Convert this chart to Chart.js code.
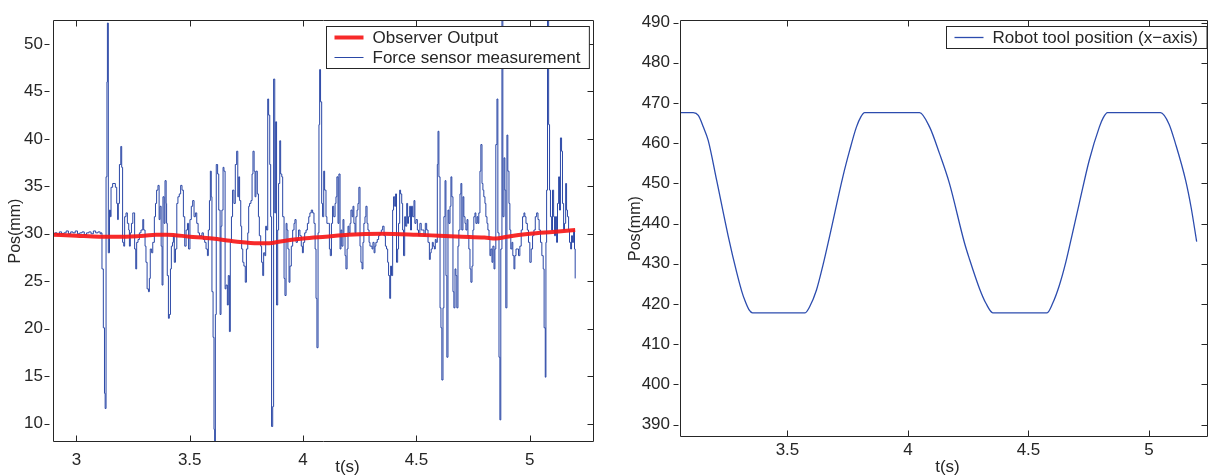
<!DOCTYPE html>
<html>
<head>
<meta charset="utf-8">
<title>Observer output and robot tool position</title>
<script src="https://cdn.jsdelivr.net/npm/chart.js@4.4.1/dist/chart.umd.min.js"></script>
<style>
  html, body { margin: 0; padding: 0; background: #fff; }
  body { position: relative; width: 1209px; height: 476px; overflow: hidden; }
  .panel { position: absolute; top: 0; }
  #leftPanel { left: 0; }
  #rightPanel { left: 610px; }
</style>
</head>
<body>
<div class="panel" id="leftPanel"><canvas id="forceChart" width="600" height="476"></canvas></div>
<div class="panel" id="rightPanel"><canvas id="robotChart" width="599" height="476"></canvas></div>
<script>
// ---- data: left panel (position estimate vs. raw force sensor), t in s, pos in mm
const observerOutput = [
  [2.897, 29.9], [3.0, 29.8], [3.1, 29.7], [3.2, 29.7], [3.3, 29.8], [3.35, 29.9], [3.4, 29.9],
  [3.5, 29.7], [3.6, 29.5], [3.7, 29.2], [3.8, 29.0], [3.85, 29.0], [3.9, 29.2], [4.0, 29.5],
  [4.1, 29.7], [4.2, 29.9], [4.35, 30.0], [4.5, 29.9], [4.6, 29.8], [4.7, 29.7], [4.8, 29.6],
  [4.85, 29.5], [4.9, 29.7], [5.0, 30.0], [5.1, 30.2], [5.2, 30.4]
];

const forceSensor = [
  [2.897, 30.0], [2.905, 30.1], [2.915, 29.9], [2.925, 30.2], [2.935, 30.0], [2.945, 30.1],
  [2.955, 30.3], [2.965, 30.0], [2.975, 30.2], [2.985, 30.1], [2.995, 30.3], [3.005, 30.0],
  [3.015, 30.1], [3.025, 30.2], [3.035, 29.9], [3.045, 30.1], [3.055, 30.2], [3.065, 30.0],
  [3.075, 30.3], [3.085, 30.1], [3.095, 30.2], [3.105, 30.0], [3.109, 30.1],
  [3.113, 26.3], [3.119, 20.1], [3.124, 13.2], [3.127, 11.6], [3.131, 36.0], [3.135, 46.0],
  [3.137, 52.2], [3.141, 28.0], [3.146, 32.5], [3.150, 31.8], [3.153, 34.9], [3.160, 35.3],
  [3.172, 34.9], [3.178, 33.2], [3.182, 31.5], [3.185, 33.2], [3.190, 37.3], [3.196, 39.2],
  [3.200, 37.0], [3.204, 29.1], [3.209, 28.7], [3.213, 31.8], [3.219, 32.2], [3.225, 31.1],
  [3.231, 30.4], [3.234, 28.7], [3.238, 30.1], [3.243, 31.1], [3.249, 32.2], [3.253, 32.2],
  [3.257, 28.4], [3.262, 26.3], [3.266, 29.1], [3.272, 29.4], [3.278, 30.1], [3.285, 30.4],
  [3.293, 31.5], [3.297, 30.4], [3.303, 28.7], [3.307, 27.0], [3.312, 24.2], [3.318, 23.9],
  [3.322, 25.3], [3.326, 28.4], [3.332, 28.0], [3.337, 29.1], [3.344, 31.8], [3.349, 33.2],
  [3.354, 34.6], [3.360, 35.1], [3.365, 31.5], [3.369, 32.9], [3.374, 28.7], [3.378, 24.6],
  [3.382, 33.9], [3.387, 31.1], [3.391, 35.6], [3.396, 33.2], [3.398, 31.1], [3.401, 25.6],
  [3.406, 21.1], [3.410, 21.5], [3.415, 26.3], [3.419, 28.7], [3.424, 29.1], [3.428, 29.8],
  [3.432, 27.0], [3.437, 28.4], [3.443, 33.2], [3.448, 33.9], [3.454, 34.2], [3.460, 35.1],
  [3.466, 34.6], [3.472, 31.8], [3.478, 28.7], [3.484, 30.4], [3.490, 31.1], [3.495, 28.4],
  [3.501, 31.5], [3.507, 32.9], [3.513, 33.5], [3.519, 31.8], [3.525, 32.2], [3.531, 31.1],
  [3.537, 30.1], [3.543, 29.8], [3.548, 29.8], [3.554, 30.1], [3.560, 29.4], [3.566, 29.1],
  [3.572, 28.4], [3.578, 27.7], [3.582, 30.4], [3.587, 33.5], [3.591, 36.6], [3.595, 33.9],
  [3.598, 23.9], [3.603, 19.1], [3.607, 9.4], [3.610, 7.5], [3.613, 21.5], [3.617, 37.3],
  [3.623, 36.3], [3.628, 32.5], [3.634, 21.5], [3.638, 30.8], [3.642, 32.5], [3.647, 37.0],
  [3.651, 36.6], [3.656, 24.2], [3.660, 24.6], [3.666, 22.5], [3.670, 25.6], [3.675, 19.7],
  [3.679, 29.1], [3.684, 31.8], [3.689, 34.6], [3.695, 33.2], [3.701, 37.3], [3.707, 38.7],
  [3.712, 33.9], [3.716, 36.0], [3.720, 33.5], [3.725, 30.8], [3.729, 28.4], [3.734, 27.0],
  [3.739, 26.6], [3.745, 24.9], [3.750, 28.4], [3.756, 30.1], [3.760, 32.9], [3.764, 33.2],
  [3.770, 33.5], [3.775, 36.3], [3.779, 38.7], [3.784, 36.6], [3.788, 33.9], [3.792, 36.6],
  [3.798, 34.2], [3.803, 31.8], [3.807, 29.8], [3.813, 28.7], [3.817, 27.0], [3.822, 25.6],
  [3.826, 28.0], [3.831, 27.7], [3.835, 30.8], [3.839, 30.4], [3.844, 44.2], [3.848, 42.5],
  [3.853, 37.3], [3.857, 31.8], [3.861, 9.7], [3.866, 11.8], [3.870, 46.3], [3.875, 32.2],
  [3.879, 41.8], [3.883, 22.5], [3.888, 30.4], [3.892, 35.3], [3.897, 39.8], [3.901, 36.3],
  [3.906, 36.0], [3.910, 31.8], [3.916, 25.3], [3.920, 23.5], [3.925, 31.1], [3.929, 30.4],
  [3.933, 28.4], [3.938, 24.9], [3.942, 26.6], [3.948, 28.7], [3.954, 30.4], [3.960, 31.1],
  [3.964, 31.5], [3.969, 29.1], [3.975, 29.4], [3.980, 30.4], [3.986, 29.8], [3.992, 28.7],
  [3.997, 28.0], [4.001, 29.1], [4.007, 30.1], [4.013, 30.4], [4.019, 31.1], [4.025, 31.8],
  [4.030, 32.2], [4.036, 32.5], [4.042, 32.2], [4.048, 31.1], [4.053, 28.4], [4.057, 23.2],
  [4.061, 18.0], [4.066, 30.1], [4.070, 41.5], [4.073, 47.3], [4.077, 43.9], [4.082, 33.2],
  [4.086, 31.8], [4.091, 36.6], [4.095, 34.6], [4.101, 31.8], [4.105, 31.1], [4.111, 31.1],
  [4.116, 28.4], [4.120, 27.7], [4.125, 31.1], [4.130, 32.9], [4.135, 31.8], [4.141, 33.2],
  [4.145, 33.9], [4.149, 36.0], [4.154, 31.1], [4.158, 36.3], [4.163, 28.4], [4.167, 30.4],
  [4.171, 28.7], [4.176, 31.5], [4.180, 29.8], [4.185, 27.7], [4.189, 26.3], [4.194, 28.4],
  [4.198, 30.8], [4.202, 30.1], [4.207, 31.1], [4.211, 32.5], [4.216, 31.8], [4.220, 32.9],
  [4.224, 31.1], [4.229, 30.1], [4.233, 31.8], [4.238, 32.5], [4.242, 33.2], [4.246, 34.9],
  [4.251, 28.7], [4.255, 27.0], [4.260, 26.3], [4.264, 29.1], [4.268, 31.1], [4.273, 31.8],
  [4.277, 32.9], [4.282, 31.1], [4.286, 30.4], [4.291, 29.1], [4.295, 28.7], [4.299, 28.7],
  [4.304, 28.4], [4.308, 29.1], [4.313, 28.0], [4.317, 28.7], [4.321, 29.1], [4.327, 29.4],
  [4.333, 29.8], [4.339, 30.1], [4.345, 30.4], [4.351, 30.8], [4.357, 29.8], [4.363, 28.7],
  [4.368, 28.4], [4.373, 27.0], [4.377, 25.6], [4.382, 23.2], [4.386, 26.6], [4.390, 25.6],
  [4.395, 32.5], [4.399, 33.9], [4.404, 32.9], [4.408, 34.2], [4.412, 27.0], [4.417, 28.4],
  [4.421, 31.1], [4.426, 34.6], [4.430, 34.2], [4.435, 33.2], [4.439, 30.4], [4.443, 27.7],
  [4.448, 31.8], [4.452, 30.8], [4.457, 33.2], [4.461, 31.1], [4.465, 31.8], [4.470, 32.9],
  [4.474, 30.4], [4.478, 32.9], [4.483, 31.8], [4.489, 33.5], [4.493, 31.1], [4.498, 31.5],
  [4.504, 30.4], [4.509, 29.8], [4.515, 31.1], [4.521, 30.4], [4.527, 30.4], [4.533, 29.8],
  [4.539, 31.1], [4.545, 30.4], [4.551, 29.1], [4.557, 27.3], [4.561, 28.0], [4.565, 28.4],
  [4.570, 29.1], [4.574, 28.7], [4.579, 28.4], [4.583, 29.4], [4.587, 29.1], [4.592, 37.3],
  [4.595, 40.8], [4.599, 36.0], [4.604, 22.2], [4.608, 20.1], [4.612, 14.6], [4.617, 22.2],
  [4.621, 31.8], [4.626, 35.6], [4.630, 25.6], [4.634, 17.0], [4.639, 32.5], [4.643, 31.1],
  [4.648, 32.9], [4.652, 36.0], [4.656, 33.9], [4.661, 23.9], [4.665, 22.2], [4.670, 26.3],
  [4.674, 25.6], [4.678, 22.2], [4.683, 28.7], [4.687, 30.4], [4.692, 34.2], [4.696, 35.3],
  [4.700, 30.4], [4.705, 33.9], [4.709, 31.8], [4.714, 31.1], [4.718, 30.4], [4.723, 31.5],
  [4.727, 29.8], [4.731, 28.4], [4.736, 26.3], [4.740, 24.9], [4.745, 26.6], [4.749, 30.4],
  [4.753, 31.8], [4.758, 32.2], [4.762, 31.1], [4.767, 31.8], [4.771, 31.1], [4.775, 32.2],
  [4.780, 36.6], [4.784, 39.4], [4.789, 35.3], [4.793, 34.6], [4.797, 33.9], [4.802, 33.2],
  [4.806, 31.8], [4.811, 31.1], [4.815, 30.4], [4.820, 29.4], [4.824, 27.7], [4.828, 28.4],
  [4.833, 27.0], [4.837, 28.7], [4.842, 26.3], [4.846, 28.4], [4.850, 39.4], [4.855, 44.2],
  [4.859, 30.1], [4.864, 17.0], [4.868, 10.4], [4.872, 28.4], [4.877, 60.0], [4.881, 31.8],
  [4.886, 38.0], [4.890, 34.6], [4.894, 22.2], [4.899, 40.4], [4.903, 36.6], [4.908, 33.2],
  [4.912, 30.4], [4.916, 28.4], [4.921, 29.1], [4.925, 27.7], [4.930, 26.3], [4.934, 27.7],
  [4.939, 28.4], [4.944, 28.4], [4.950, 27.7], [4.956, 28.7], [4.962, 30.4], [4.968, 31.8],
  [4.974, 32.2], [4.978, 31.8], [4.983, 31.1], [4.989, 30.4], [4.994, 29.1], [5.000, 27.0],
  [5.006, 28.4], [5.012, 29.8], [5.018, 30.4], [5.024, 31.8], [5.030, 32.2], [5.036, 31.5],
  [5.041, 30.4], [5.047, 29.1], [5.053, 27.7], [5.059, 26.3], [5.063, 20.1], [5.068, 14.9],
  [5.071, 29.1], [5.074, 34.6], [5.078, 60.0], [5.083, 41.5], [5.087, 34.6], [5.091, 31.8],
  [5.096, 30.4], [5.100, 34.6], [5.105, 31.8], [5.109, 29.8], [5.113, 31.8], [5.118, 29.1],
  [5.122, 33.2], [5.127, 36.0], [5.131, 32.5], [5.135, 40.1], [5.140, 38.7], [5.144, 33.2],
  [5.149, 30.4], [5.153, 31.1], [5.158, 35.3], [5.162, 32.5], [5.166, 31.8], [5.171, 30.4],
  [5.175, 29.1], [5.180, 28.4], [5.184, 29.8], [5.188, 29.1], [5.193, 30.4], [5.197, 28.4],
  [5.200, 25.3]
];

// ---- data: right panel (robot tool x position), t in s, pos in mm
const robotToolX = [
  [3.05, 467.6], [3.109, 467.6], [3.13, 466.9], [3.151, 464.0], [3.171, 460.7], [3.206, 450.8],
  [3.254, 436.9], [3.289, 427.9], [3.31, 423.2], [3.323, 420.9], [3.34, 418.6], [3.355, 417.8],
  [3.573, 417.8], [3.592, 419.3], [3.620, 423.4], [3.647, 429.6], [3.675, 436.9], [3.730, 451.7],
  [3.758, 458.2], [3.786, 464.0], [3.805, 466.6], [3.820, 467.6],
  [4.048, 467.6], [4.090, 464.0], [4.131, 457.4], [4.172, 450.0], [4.234, 435.3], [4.255, 431.2],
  [4.297, 423.8], [4.324, 420.1], [4.352, 417.8],
  [4.577, 417.8], [4.600, 420.1], [4.628, 424.6], [4.655, 430.4], [4.683, 437.7], [4.711, 445.1],
  [4.752, 455.7], [4.794, 464.0], [4.810, 466.3], [4.828, 467.6],
  [5.048, 467.6], [5.083, 464.8], [5.110, 459.9], [5.152, 450.8], [5.175, 444.0], [5.198, 435.5]
];

// ---- axis ranges and ticks
const leftTimeRange = [2.897, 5.283];
const leftPosRange = [8.07, 52.5];
const leftTimeTicks = [3, 3.5, 4, 4.5, 5];
const leftPosTicks = [10, 15, 20, 25, 30, 35, 40, 45, 50];

const rightTimeRange = [3.054, 5.245];
const rightPosRange = [386.9, 490.6];
const rightTimeTicks = [3.5, 4, 4.5, 5];
const rightPosTicks = [390, 400, 410, 420, 430, 440, 450, 460, 470, 480, 490];

const FONT = '"Liberation Sans", Arial, Helvetica, sans-serif';
const INK = '#262626';

const toXY = rows => rows.map(([x, y]) => ({ x, y }));

// box, inward ticks, axis titles and the boxed legend
const matlabAxes = {
  id: 'matlabAxes',
  afterDraw(chart, args, o) {
    const { ctx, chartArea: a } = chart;
    const sx = chart.scales.x, sy = chart.scales.y;
    const L = Math.round(a.left) + 0.5, R = Math.round(a.right) - 0.5;
    const T = Math.round(a.top) + 0.5, B = Math.round(a.bottom) - 0.5;

    ctx.save();
    ctx.strokeStyle = INK;
    ctx.lineWidth = 1;
    ctx.beginPath();
    ctx.rect(L, T, R - L, B - T);
    sx.ticks.forEach(t => {
      const x = Math.round(sx.getPixelForValue(t.value)) + 0.5;
      ctx.moveTo(x, B); ctx.lineTo(x, B - 6);
      ctx.moveTo(x, T); ctx.lineTo(x, T + 6);
    });
    sy.ticks.forEach(t => {
      const y = Math.round(sy.getPixelForValue(t.value)) + 0.5;
      ctx.moveTo(L - o.tickGap, y); ctx.lineTo(L - o.tickGap - 5, y);
      ctx.moveTo(R, y); ctx.lineTo(R - 6, y);
    });
    ctx.stroke();

    // axis titles
    ctx.fillStyle = INK;
    ctx.textAlign = 'center';
    ctx.textBaseline = 'middle';
    ctx.font = '17px ' + FONT;
    ctx.fillText(o.xTitle, (a.left + a.right) / 2 + o.xTitleShift, o.xTitleY);
    ctx.font = '16px ' + FONT;
    ctx.save();
    ctx.translate(o.yTitleX, (a.top + a.bottom) / 2);
    ctx.rotate(-Math.PI / 2);
    ctx.fillText(o.yTitle, 0, 0);
    ctx.restore();

    // legend box in the upper right corner
    const items = chart.data.datasets;
    ctx.font = '17px ' + FONT;
    const textW = Math.max(...items.map(d => ctx.measureText(d.label).width));
    const w = 8 + 29 + 9 + textW + 9;
    const h = items.length * 20 + 2;
    const bx = Math.round(a.right - o.legendRight - w) + 0.5;
    const by = Math.round(a.top + o.legendTop) + 0.5;
    ctx.fillStyle = '#fff';
    ctx.fillRect(bx, by, w, h);
    ctx.strokeRect(bx, by, w, h);
    ctx.textAlign = 'left';
    items.forEach((d, i) => {
      const cy = by + 11 + i * 20;
      ctx.strokeStyle = d.borderColor;
      ctx.lineWidth = d.borderWidth;
      ctx.beginPath();
      ctx.moveTo(bx + 8, cy); ctx.lineTo(bx + 37, cy);
      ctx.stroke();
      ctx.fillStyle = INK;
      ctx.fillText(d.label, bx + 46, cy + 1);
    });
    ctx.restore();
  }
};

function axes(timeRange, posRange, timeTicks, posTicks, yWidth, xHeight, xPad) {
  const tickFont = { family: FONT, size: 17 };
  return {
    x: {
      type: 'linear', min: timeRange[0], max: timeRange[1],
      afterBuildTicks: s => { s.ticks = timeTicks.map(v => ({ value: v })); },
      afterFit: s => { s.height = xHeight; },
      grid: { display: false, drawTicks: false },
      border: { display: false },
      ticks: { color: INK, font: tickFont, padding: xPad, maxRotation: 0, autoSkip: false, callback: v => String(v) }
    },
    y: {
      type: 'linear', min: posRange[0], max: posRange[1],
      afterBuildTicks: s => { s.ticks = posTicks.map(v => ({ value: v })); },
      afterFit: s => { s.width = yWidth; },
      grid: { display: false, drawTicks: false },
      border: { display: false },
      ticks: { color: INK, font: tickFont, padding: 10, autoSkip: false, callback: v => String(v) }
    }
  };
}

new Chart(document.getElementById('forceChart'), {
  type: 'line',
  data: {
    datasets: [{
      label: 'Observer Output',
      data: toXY(observerOutput),
      borderColor: 'rgba(246, 24, 24, 0.92)',
      borderWidth: 4,
      pointRadius: 0,
      cubicInterpolationMode: 'monotone'
    }, {
      label: 'Force sensor measurement',
      data: toXY(forceSensor),
      borderColor: '#2a47a6',
      borderWidth: 1,
      pointRadius: 0,
      stepped: true
    }]
  },
  options: {
    responsive: false,
    animation: false,
    devicePixelRatio: 1,
    layout: { padding: { top: 14, right: 6, left: 0, bottom: 0 } },
    scales: axes(leftTimeRange, leftPosRange, leftTimeTicks, leftPosTicks, 53, 34, 8),
    plugins: {
      legend: { display: false },
      tooltip: { enabled: false },
      matlabAxes: {
        tickGap: 4, xTitle: 't(s)', xTitleShift: 24, xTitleY: 467.5,
        yTitle: 'Pos(mm)', yTitleX: 16, legendRight: 5, legendTop: 6
      }
    }
  },
  plugins: [matlabAxes]
});

new Chart(document.getElementById('robotChart'), {
  type: 'line',
  data: {
    datasets: [{
      label: 'Robot tool position (x\u2212axis)',
      data: toXY(robotToolX),
      borderColor: '#2c4cae',
      borderWidth: 1.3,
      pointRadius: 0,
      cubicInterpolationMode: 'monotone'
    }]
  },
  options: {
    responsive: false,
    animation: false,
    devicePixelRatio: 1,
    layout: { padding: { top: 15, right: 1, left: 0, bottom: 0 } },
    scales: axes(rightTimeRange, rightPosRange, rightTimeTicks, rightPosTicks, 70, 39, 3),
    plugins: {
      legend: { display: false },
      tooltip: { enabled: false },
      matlabAxes: {
        tickGap: 2, xTitle: 't(s)', xTitleShift: 3.5, xTitleY: 467.5,
        yTitle: 'Pos(mm)', yTitleX: 25.5, legendRight: 1, legendTop: 6
      }
    }
  },
  plugins: [matlabAxes]
});
</script>
</body>
</html>
